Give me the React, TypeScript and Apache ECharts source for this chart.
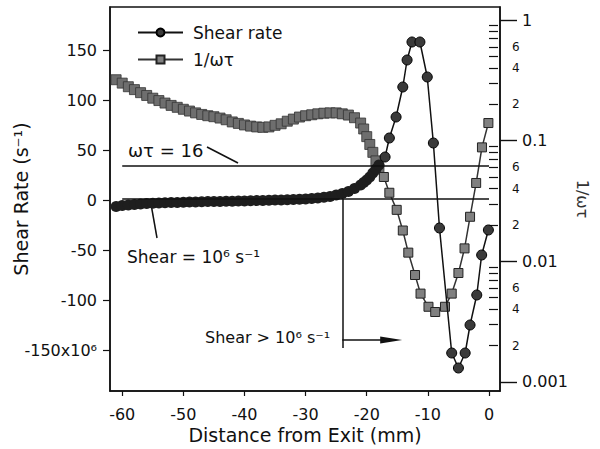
import React, { useEffect, useRef } from 'react';
import * as echarts from 'echarts';

// ---- axis ticks / labels ----
const xTicks = [-60, -50, -40, -30, -20, -10, 0];
const leftTicks = [-150, -100, -50, 0, 50, 100, 150];
const rightMajor = [0.001, 0.01, 0.1, 1];
const rightMajorLabels = ['0.001', '0.01', '0.1', '1'];
const rightDecades = [0.001, 0.01, 0.1];
const rightMinorMantissas = [2, 3, 4, 5, 6, 7, 8, 9];
const rightLabeledMantissas = [2, 4, 6];

// ---- data: shear rate (x10^6 s^-1) and 1/ωτ ----
const denseX = [-61, -60, -59, -58, -57, -56, -55, -54, -53, -52, -51, -50, -49, -48, -47, -46, -45, -44, -43, -42, -41, -40, -39, -38, -37, -36, -35, -34, -33, -32, -31, -30, -29, -28, -27, -26, -25, -24, -23, -22, -21, -20.5, -20, -19.5, -19, -18.5, -18];
const shearDense = [-6.5, -5.5, -5, -4.5, -4, -3.6, -3.3, -3, -2.8, -2.6, -2.4, -2.2, -2, -1.9, -1.8, -1.6, -1.5, -1.4, -1.3, -1.2, -1, -0.9, -0.8, -0.6, -0.5, -0.3, -0.1, 0, 0.2, 0.4, 0.7, 1, 1.4, 2, 2.7, 3.6, 5, 6.5, 8.5, 11.5, 15, 17.5, 20, 23, 27, 31, 35];
const invDense = [0.32, 0.30, 0.28, 0.265, 0.25, 0.237, 0.225, 0.215, 0.205, 0.196, 0.189, 0.182, 0.176, 0.17, 0.165, 0.161, 0.158, 0.154, 0.149, 0.143, 0.139, 0.135, 0.132, 0.130, 0.129, 0.130, 0.134, 0.138, 0.145, 0.151, 0.157, 0.161, 0.164, 0.167, 0.169, 0.170, 0.170, 0.167, 0.163, 0.155, 0.14, 0.125, 0.108, 0.093, 0.08, 0.068, 0.058];

const shearSparseX = [-17.0, -16.3, -15.2, -14.1, -13.4, -12.6, -11.3, -10.1, -9.1, -8.1, -6.1, -5.0, -3.9, -3.1, -2.0, -1.2, -0.1];
const shearSparse = [43, 62, 83, 113, 140, 158, 158, 123, 57, -28, -153, -168, -153, -125, -95, -55, -30];

const invSparseX = [-17.2, -16.3, -15.1, -14.1, -13.2, -12.1, -11.2, -9.9, -8.8, -7.2, -6.1, -5.0, -4.0, -3.1, -2.1, -1.15, -0.1];
const invSparse = [0.050, 0.037, 0.0267, 0.018, 0.0118, 0.0077, 0.0054, 0.0042, 0.0038, 0.0042, 0.0054, 0.008, 0.0128, 0.0234, 0.0446, 0.088, 0.14];

// ---- annotation values ----
const omegaTauThreshold = 1 / 16; // ωτ = 16
const shearThreshold = 1; // 10^6 s^-1 (axis in units of 10^6)
const shearOnsetX = -24;
const lineStartX = -60;
const lineEndX = 0;
const arrowY = -140;
const arrowEndX = -16;
const onsetBottomY = -148;

// ---- axis ranges ----
const xMin = -62;
const xMax = 1.8;
const leftMin = -191;
const leftMax = 193;
const rightMin = -3.075; // log10 of 1/ωτ
const rightMax = 0.108;

const FONT = '"DejaVu Sans", sans-serif';
const INK = '#111';

export default function App() {
  const ref = useRef<HTMLDivElement>(null);

  useEffect(() => {
    document.body.style.margin = '0';
    const chart = echarts.init(ref.current!, undefined, { renderer: 'svg' });

    const denseShearStyle = { color: '#1e1e1e', borderWidth: 0 };
    const denseInvStyle = { color: '#6e6e6e', borderColor: '#333', borderWidth: 0.8 };

    const shearData: any[] = denseX
      .map((x, i) => ({ value: [x, shearDense[i]], symbolSize: 11, itemStyle: denseShearStyle }))
      .concat(shearSparseX.map((x, i) => ({ value: [x, shearSparse[i]] }) as any));
    const invData: any[] = denseX
      .map((x, i) => ({ value: [x, Math.log10(invDense[i])], symbolSize: 10, itemStyle: denseInvStyle }))
      .concat(invSparseX.map((x, i) => ({ value: [x, Math.log10(invSparse[i])] }) as any));

    const majorVals = rightMajor.map((v) => Math.log10(v));
    const minorVals: number[] = [];
    const labeledMinorVals: number[] = [];
    rightDecades.forEach((d) => {
      rightMinorMantissas.forEach((m) => minorVals.push(Math.log10(m * d)));
      rightLabeledMantissas.forEach((m) => labeledMinorVals.push(Math.log10(m * d)));
    });

    const tOmega = Math.log10(omegaTauThreshold);

    const option: any = {
      animation: false,
      backgroundColor: '#fff',
      grid: {
        left: 110, right: 100, top: 7, bottom: 58,
        show: true, borderColor: INK, borderWidth: 1.5,
        outerBoundsMode: 'none',
      },
      legend: {
        left: 137, top: 24, orient: 'vertical', padding: 0,
        itemWidth: 45, itemHeight: 10, itemGap: 10,
        selectedMode: false,
        textStyle: { fontSize: 17, color: INK, fontFamily: FONT, padding: [0, 0, 0, 5] },
        data: ['Shear rate', '1/ωτ'],
      },
      xAxis: {
        type: 'value', min: xMin, max: xMax,
        axisLine: { show: true, onZero: false, lineStyle: { color: INK, width: 1.5 } },
        axisTick: { show: true, customValues: xTicks, length: 5, lineStyle: { color: INK, width: 1.2 } },
        axisLabel: { customValues: xTicks, margin: 15, color: INK, fontSize: 16, fontFamily: FONT },
        splitLine: { show: false },
        name: 'Distance from Exit (mm)', nameLocation: 'middle', nameGap: 34, nameMoveOverlap: false,
        nameTextStyle: { fontSize: 19, color: INK, fontFamily: FONT },
      },
      yAxis: [
        {
          type: 'value', position: 'left', min: leftMin, max: leftMax,
          axisLine: { show: true, onZero: false, lineStyle: { color: INK, width: 1.5 } },
          axisTick: { show: true, customValues: leftTicks, length: 7, lineStyle: { color: INK, width: 1.2 } },
          axisLabel: {
            customValues: leftTicks, margin: 13, color: INK, fontSize: 16, fontFamily: FONT,
            formatter: (v: number) => (v === -150 ? '-150x10⁶' : String(v)),
          },
          splitLine: { show: false },
          name: 'Shear Rate (s⁻¹)', nameLocation: 'middle', nameGap: 80, nameRotate: 90, nameMoveOverlap: false,
          nameTextStyle: { fontSize: 19, color: INK, fontFamily: FONT },
        },
        {
          type: 'value', position: 'right', min: rightMin, max: rightMax,
          axisLine: { show: true, onZero: false, lineStyle: { color: INK, width: 1.5 } },
          axisTick: { show: true, customValues: majorVals, length: 17, lineStyle: { color: INK, width: 1.4 } },
          axisLabel: {
            customValues: majorVals, margin: 22, color: INK, fontSize: 16, fontFamily: FONT,
            formatter: (v: number) => {
              const i = majorVals.findIndex((m) => Math.abs(m - v) < 1e-6);
              return i >= 0 ? rightMajorLabels[i] : '';
            },
          },
          splitLine: { show: false },
          name: '1/ωτ', nameLocation: 'middle', nameGap: 74, nameRotate: -90, nameMoveOverlap: false,
          nameTextStyle: { fontSize: 16, color: '#333', fontFamily: FONT },
        },
        {
          type: 'value', position: 'right', min: rightMin, max: rightMax,
          axisLine: { show: false },
          axisTick: { show: true, customValues: minorVals, length: 9, lineStyle: { color: INK, width: 1.2 } },
          axisLabel: {
            customValues: labeledMinorVals, margin: 12, color: INK, fontSize: 12, fontFamily: FONT,
            formatter: (v: number) => String(Math.round(Math.pow(10, v - Math.floor(v + 1e-9)))),
          },
          splitLine: { show: false },
        },
      ],
      series: [
        {
          name: '1/ωτ', type: 'line', yAxisIndex: 1, data: invData, z: 2,
          symbol: 'rect', symbolSize: 9,
          lineStyle: { color: '#333', width: 1.5 },
          itemStyle: { color: '#808080', borderColor: '#222', borderWidth: 1 },
          markLine: {
            silent: true, symbol: ['none', 'none'], label: { show: false },
            lineStyle: { color: INK, width: 1.5, type: 'solid' },
            data: [[{ coord: [lineStartX, tOmega] }, { coord: [lineEndX, tOmega] }]],
          },
        },
        {
          name: 'Shear rate', type: 'line', yAxisIndex: 0, data: shearData, z: 3,
          symbol: 'circle', symbolSize: 10,
          lineStyle: { color: INK, width: 1.5 },
          itemStyle: { color: '#3a3a3a', borderColor: '#000', borderWidth: 1 },
          markLine: {
            silent: true, symbol: ['none', 'none'], label: { show: false },
            lineStyle: { color: INK, width: 1.5, type: 'solid' },
            data: [
              [{ coord: [lineStartX, shearThreshold] }, { coord: [lineEndX, shearThreshold] }],
              [{ coord: [shearOnsetX, shearThreshold] }, { coord: [shearOnsetX, onsetBottomY] }],
              [
                { coord: [shearOnsetX, arrowY] },
                { coord: [arrowEndX, arrowY], symbol: 'triangle', symbolSize: [7, 22] },
              ],
            ],
          },
        },
      ],
      graphic: [
        { type: 'text', x: 128, y: 150, style: { text: 'ωτ = 16', font: `18px ${FONT}`, fill: INK, verticalAlign: 'middle' } },
        { type: 'line', shape: { x1: 207, y1: 147, x2: 238, y2: 163 }, style: { stroke: INK, lineWidth: 1.5 } },
        { type: 'text', x: 127, y: 257, style: { text: 'Shear = 10⁶ s⁻¹', font: `17px ${FONT}`, fill: INK, verticalAlign: 'middle' } },
        { type: 'line', shape: { x1: 151, y1: 204, x2: 157, y2: 238 }, style: { stroke: INK, lineWidth: 1.5 } },
        { type: 'text', x: 205, y: 337, style: { text: 'Shear > 10⁶ s⁻¹', font: `16px ${FONT}`, fill: INK, verticalAlign: 'middle' } },
      ],
    };

    chart.setOption(option);
    return () => chart.dispose();
  }, []);

  return <div ref={ref} style={{ width: 600, height: 449 }} />;
}
